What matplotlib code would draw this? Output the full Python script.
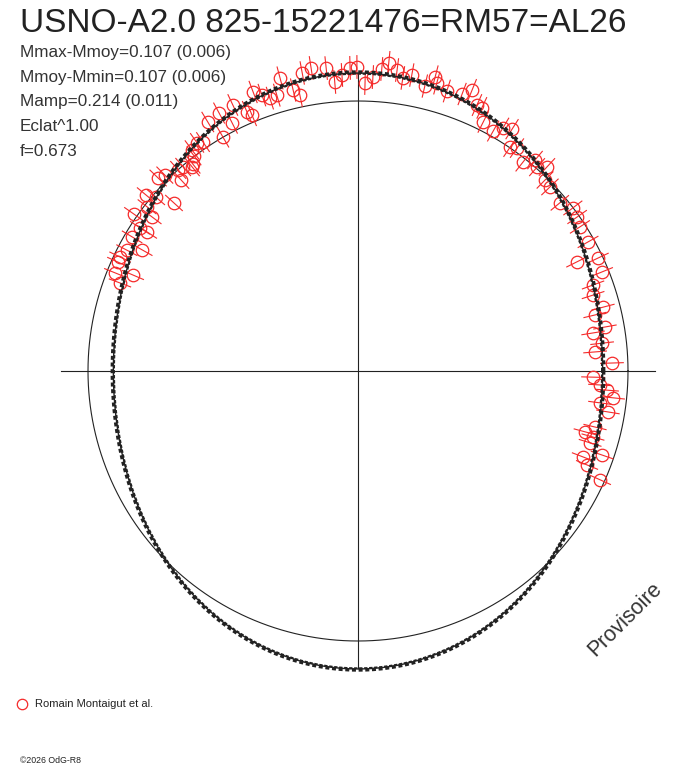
import numpy as np
import matplotlib.pyplot as plt

# Courbe de lumiere polaire (phase -> angle, flux relatif -> rayon)
titre = "USNO-A2.0 825-15221476=RM57=AL26"
infos = ["Mmax-Mmoy=0.107 (0.006)",
         "Mmoy-Mmin=0.107 (0.006)",
         "Mamp=0.214 (0.011)",
         "Eclat^1.00",
         "f=0.673"]
auteur = "Romain Montaigut et al."
copyright_txt = "\u00a92026 OdG-R8"

# amplitudes du modele (mag)
m_max = 0.107
m_min = 0.107

# angle de phase (deg) et flux relatif des mesures
angle_deg = [159.7, 158.0, 156.9, 155.6, 154.4, 152.4, 150.7, 149.3, 146.7, 146.6,
             143.2, 145.0, 142.1, 137.6, 140.3, 139.3, 132.8, 136.0, 134.6, 131.8,
             130.6, 129.1, 128.6, 127.3, 126.9, 125.2, 124.1, 120.0, 121.1, 116.9,
             118.3, 115.2, 113.2, 112.5, 110.6, 109.2, 107.9, 106.4, 104.9, 103.0,
             101.9, 100.6, 98.8, 96.0, 94.6, 93.1, 91.5, 90.2, 88.6, 87.1,
             85.5, 84.3, 82.6, 81.3, 79.7, 76.8, 75.3, 74.7, 72.4, 69.4,
             67.9, 65.9, 64.8, 63.3, 60.6, 59.2, 57.5, 55.8, 54.5, 51.7,
             50.0, 48.7, 47.2, 45.6, 43.8, 39.8, 37.2, 35.1, 33.0, 29.3,
             26.5, 25.2, 22.1, 20.1, 17.9, 14.6, 13.3, 10.1, 9.2, 6.5,
             4.6, 1.8, -1.5, -3.3, -4.4, -6.0, -7.5, -9.3, -13.3, -15.0,
             -15.7, -17.2, -19.0, -20.9, -22.3, -24.2]
flux_rel = [0.940, 0.970, 0.906, 0.976, 0.977, 0.966, 0.917, 0.973, 0.966, 0.936,
            0.953, 1.013, 0.990, 0.923, 1.020, 0.987, 0.964, 1.029, 1.019, 0.999,
            0.995, 0.974, 0.980, 1.002, 1.024, 1.034, 1.024, 1.000, 1.077, 1.030,
            1.085, 1.089, 1.044, 1.026, 1.104, 1.082, 1.062, 1.065, 1.123, 1.068,
            1.044, 1.123, 1.136, 1.128, 1.074, 1.098, 1.123, 1.126, 1.067, 1.090,
            1.122, 1.147, 1.124, 1.098, 1.114, 1.084, 1.126, 1.106, 1.088, 1.096,
            1.123, 1.079, 1.077, 1.032, 1.020, 1.048, 1.062, 1.003, 1.014, 0.986,
            1.020, 1.005, 1.030, 0.990, 0.985, 0.973, 0.999, 0.992, 0.980, 0.977,
            0.906, 0.982, 0.975, 0.927, 0.915, 0.938, 0.902, 0.929, 0.882, 0.910,
            0.881, 0.941, 0.871, 0.898, 0.925, 0.950, 0.904, 0.938, 0.902, 0.871,
            0.904, 0.900, 0.956, 0.892, 0.917, 0.983]
erreur = 0.042

W, H = 688, 768
cx, cy, R = 358, 371, 270

fig = plt.figure(figsize=(W / 100, H / 100), dpi=100)
ax = fig.add_axes([0, 0, 1, 1])
ax.set_xlim(-cx / R, (W - cx) / R)
ax.set_ylim(-(H - cy) / R, cy / R)
ax.axis('off')

noir = '#222222'
rouge = '#f52a2a'

# axes et cercle de reference
ax.plot([-1.1, 1.1], [0, 0], color=noir, lw=0.8)
ax.plot([0, 0], [-1.1, 1.1], color=noir, lw=0.8)
t = np.linspace(0, 2 * np.pi, 721)
ax.plot(np.cos(t), np.sin(t), color=noir, lw=0.8)

# mesures avec barres d'erreur radiales
th = np.radians(angle_deg)
fl = np.array(flux_rel)
for a, r in zip(th, fl):
    ax.plot([(r - erreur) * np.cos(a), (r + erreur) * np.cos(a)],
            [(r - erreur) * np.sin(a), (r + erreur) * np.sin(a)],
            color=rouge, lw=0.8, zorder=3)
ax.plot(fl * np.cos(th), fl * np.sin(th), 'o', ms=9, mfc='none', mec=rouge,
        mew=0.9, zorder=3)

# modele
for amp, dec, ls, lw in [(m_max, 0.0, '-', 1.0), (m_min, 0.004, (0, (1.2, 0.8)), 2.4),
                         ((m_max + m_min) / 2, -0.003, (0, (2, 1)), 1.2)]:
    dm = amp * np.cos(2 * t)
    rr = 10 ** (-0.4 * dm) + dec
    ax.plot(rr * np.cos(t), rr * np.sin(t), color=noir, lw=lw, ls=ls, zorder=4)

# textes
police = ['Liberation Sans', 'DejaVu Sans']
fig.text(20 / W, 1 - 32 / H, titre, fontsize=24, color=noir, family=police,
         va='baseline')
for i, s in enumerate(infos):
    fig.text(20 / W, 1 - (57 + 24.7 * i) / H, s, fontsize=12.3, color='#333333',
             family=police, va='baseline')

ax.text(0.99, -0.92, "Provisoire", fontsize=15.5, color='#333333', family=police,
        rotation=45, ha='center', va='center', transform=ax.transData)

ax.plot([(22 - cx) / R], [(cy - 704) / R], 'o', ms=7.5, mfc='none', mec=rouge,
        mew=0.9)
fig.text(35 / W, 1 - 704 / H, auteur, fontsize=8, color=noir, family=police,
         va='center')
fig.text(20 / W, 1 - 763 / H, copyright_txt, fontsize=6.3, color=noir, family=police,
         va='baseline')

fig.savefig('out.png', dpi=100)
